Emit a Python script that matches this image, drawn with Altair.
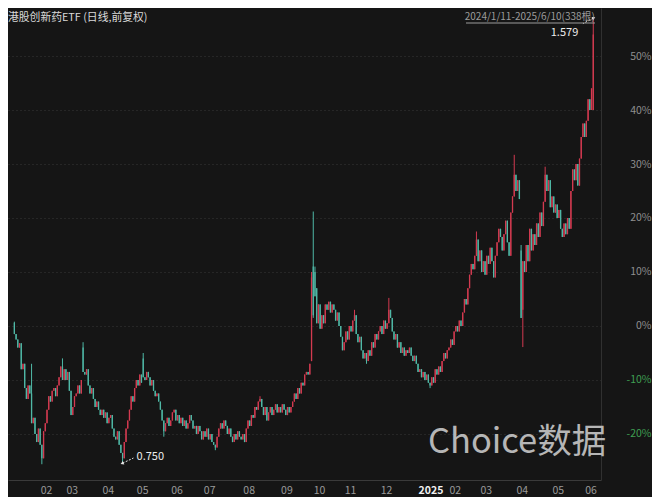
import altair as alt
import pandas as pd

# ---- daily closes, % change vs. base (2024/1/11 - 2025/6/10, 338 trading days) ----
jan24 = [-1.5, -2.5, -4.0, -3.2, -8.0, -7.0, -11.5, -13.5, -11.0, -12.5, -18.0, -17.0, -20.0, -21.5, -19.0]
feb24 = [-22, -24.5, -19.5, -18, -15.5, -13, -14, -12, -11.5, -13, -11, -9.5, -7.5, -10, -8]
mar24 = [-10, -8.5, -12, -16.5, -15, -13, -12.5, -11, -12.5, -10, -8.5, -9, -8, -11, -12.5, -11.5, -13.5, -15, -14, -15.5, -16.5]
apr24 = [-15.5, -17, -16, -18, -17, -16.5, -19, -20.5, -21, -19.5, -22, -23.5, -24.5, -21.5, -19, -17.5, -15.5, -13, -14, -11.5]
may24 = [-10, -11, -9, -10.5, -9.5, -10, -8.5, -9.5, -11, -10, -12, -13, -12.5, -14, -15.5, -17.5, -19.5, -18, -17, -18.5]
jun24 = [-17.5, -16, -15.5, -17.5, -16.5, -18, -17, -18.5, -17.5, -19, -18, -16.5, -17.5, -19, -18.5, -20, -18.5, -19.5, -21]
jul24 = [-19.5, -20.5, -19, -21, -20, -21.5, -22, -22.5, -20.5, -19, -18, -19, -17.5, -18.5, -20, -19, -20.5, -21.5, -20, -21, -19.5, -20.5, -21]
aug24 = [-20, -21.5, -19, -17.5, -18.5, -16.5, -17, -15, -15.5, -14, -13.5, -15, -16.5, -15, -17.5, -16, -15, -16.5, -15.5, -14.5, -16, -15]
sep24 = [-16, -14.5, -15.5, -16.5, -15, -16, -15, -14, -12.5, -13.5, -11.5, -12.5, -10.5, -11, -9, -8.5, -9, -7, 9]
oct24 = [2, 5.5, 0.5, 4, -0.5, 2, 0.5, 4, 3, 4.5, 2.5, 4, 3, 1, 2.5, 0, -2, -4.5]
nov24 = [-3, -1, -2.5, 0, -1, 1, 2, -1.5, -3, -2, -4.5, -6, -5, -6.5, -4.5, -5.5, -3, -4, -1.5, -2.5, -1]
dec24 = [0, -1.5, 1, -0.5, 0.5, 3, 1.5, -1, -2.5, -1.5, -4, -3, -5, -4, -5.5, -4.5, -5, -4, -5.5, -6.5, -5.5, -7]
jan25 = [-8.5, -8, -9.5, -8.5, -10, -9, -10.5, -11, -9.5, -10.5, -8, -9, -7.5, -8.5, -6.5, -5, -6, -4.5]
feb25 = [-4, -2.5, -3.5, -1, 0, -1, 1, 0, 2.5, 5, 4, 7, 9.5, 11.5, 10.5, 13, 16, 12]
mar25 = [14, 10, 12, 9.5, 13, 11.5, 14.5, 12, 9, 13, 15.5, 18, 16.5, 14, 17, 19.5, 15.5, 13, 21, 24, 28]
apr25 = [25, 27, 23.5, 1.5, 12, 10, 15, 12, 18, 14, 17, 15, 19, 16.5, 21, 18.5, 23, 28, 25, 27, 22]
may25 = [24, 21, 22.5, 20, 21.5, 18, 16.5, 19, 17, 20, 18, 25, 29, 27, 30, 26, 31, 35, 37.5]
jun25 = [35, 38, 42, 40, 44, 54]

closes = (jan24 + feb24 + mar24 + apr24 + may24 + jun24 + jul24 + aug24 + sep24 + oct24
          + nov24 + dec24 + jan25 + feb25 + mar25 + apr25 + may25 + jun25)

first_open = 0.6
# read-off opens / wicks that differ from the plain bodies
open_read = {40: -4, 75: -6, 173: -6.5, 174: 11, 175: 10, 176: 7, 295: 14, 296: 3, 337: 40}
high_read = {0: 0.8, 10: -7, 28: -6, 40: -3, 75: -5, 143: -13, 173: 10, 174: 21.2, 175: 11,
             198: 3, 218: 5.2, 269: 17.5, 291: 31.7, 295: 15, 309: 29.5, 337: 57}
low_read = {16: -25.6, 63: -25.4, 87: -20.5, 117: -23, 174: 1.5, 205: -7, 242: -11.5, 296: -3.9}

# month starts (trading-day index) and their tick labels
month_idx = [15, 30, 51, 71, 91, 110, 133, 155, 174, 192, 213, 235, 253, 271, 292, 313, 332]
month_lab = ["02", "03", "04", "05", "06", "07", "08", "09", "10", "11", "12", "2025",
             "02", "03", "04", "05", "06"]

y_ticks = [-20, -10, 0, 10, 20, 30, 40, 50]

title_text = "港股创新药ETF (日线,前复权)"
range_text = "2024/1/11-2025/6/10(338根)"
max_label, max_idx, max_val = "1.579", 337, 57.0
min_label, min_idx, min_val = "0.750", 63, -25.4

RED = "#d33a50"
TEAL = "#4fb8a6"
BG = "#151515"

rows = []
prev = first_open
for i, c in enumerate(closes):
    o = open_read.get(i, prev)
    h = high_read.get(i, max(o, c))
    l = low_read.get(i, min(o, c))
    rows.append({"idx": i, "open": o, "close": c, "high": h, "low": l,
                 "dir": "up" if c >= o else "down"})
    prev = c
df = pd.DataFrame(rows)

xscale = alt.Scale(domain=[-0.8, 338.6], nice=False, zero=False)
yscale = alt.Scale(domain=[-28.52, 58.89], nice=False, zero=False)

lab_expr = ("[" + ",".join(f"'{m}'" for m in month_lab) + "][indexof(["
            + ",".join(str(v) for v in month_idx) + "], datum.value)]")

xaxis = alt.Axis(values=month_idx, labelExpr=lab_expr, title=None, grid=False, ticks=False,
                 labelAlign="left", labelPadding=5, labelFontSize=10.5, labelFont="Noto Sans CJK SC",
                 labelColor={"condition": {"test": "datum.value == 235", "value": "#f2f2f2"}, "value": "#9a9a9a"},
                 labelFontWeight={"condition": {"test": "datum.value == 235", "value": "bold"}, "value": "normal"},
                 labelOverlap=False, labelFlush=False, labelBound=False,
                 domainColor="#3a3a3a", orient="bottom")
yaxis = alt.Axis(values=y_ticks, labelExpr="datum.value + '%'", title=None, orient="right",
                 grid=True, gridColor="#383838", gridDash=[1, 3], ticks=False,
                 labelAlign="right", labelPadding=50, labelFontSize=10.5, labelFont="Noto Sans CJK SC",
                 labelColor={"condition": {"test": "datum.value < 0", "value": "#3f9f52"}, "value": "#8f8f8f"},
                 labelBaseline="middle", labelOverlap=False, domainColor="#303030")


def X(field):
    return alt.X(field, scale=xscale, axis=xaxis)


def Y(field):
    return alt.Y(field, scale=yscale, axis=yaxis)


color = alt.Color("dir:N", scale=alt.Scale(domain=["up", "down"], range=[RED, TEAL]), legend=None)

base = alt.Chart(df)
wick = base.mark_rule(strokeWidth=1).encode(x=X("idx:Q"), y=Y("low:Q"), y2="high:Q", color=color)
body = base.mark_bar(size=1.3).encode(x=X("idx:Q"), y=Y("open:Q"), y2="close:Q", color=color)

# annotations for max / min
ann = pd.DataFrame({
    "idx": [max_idx, min_idx],
    "val": [max_val, min_val],
    "idx2": [max_idx - 6, min_idx + 6.3],
    "val2": [max_val - 1.0, min_val + 0.95],
    "label": [max_label, min_label],
    "ang": [66, 246],
})
ann_base = alt.Chart(ann)
ann_rule = ann_base.mark_rule(color="#e6e6e6", strokeWidth=1, strokeDash=[2, 1.5]).encode(
    x=X("idx:Q"), x2="idx2:Q", y=Y("val:Q"), y2="val2:Q")
ann_head = ann_base.mark_point(shape="triangle", filled=True, size=14, color="#e6e6e6", opacity=1).encode(
    x=X("idx:Q"), y=Y("val:Q"), angle=alt.Angle("ang:Q", scale=None))
max_text = alt.Chart(ann.iloc[[0]]).mark_text(
    align="right", baseline="middle", dx=-15, dy=15, fontSize=11, color="#ececec",
    font="Noto Sans CJK SC").encode(x=X("idx:Q"), y=Y("val:Q"), text="label:N")
min_text = alt.Chart(ann.iloc[[1]]).mark_text(
    align="left", baseline="middle", dx=14, dy=-6, fontSize=11, color="#ececec",
    font="Noto Sans CJK SC").encode(x=X("idx:Q"), y=Y("val:Q"), text="label:N")

# header texts and watermark
title = alt.Chart(pd.DataFrame({"t": [title_text]})).mark_text(
    align="left", baseline="middle", fontSize=10.8, color="#d9d9d9", font="Noto Sans CJK SC").encode(
    x=alt.value(0), y=alt.value(9.5), text="t:N")
rng = alt.Chart(pd.DataFrame({"t": [range_text]})).mark_text(
    align="right", baseline="middle", fontSize=10, color="#9c9c9c", font="Noto Sans CJK SC").encode(
    x=alt.value(587), y=alt.value(8.5), text="t:N")
rng_line = alt.Chart(pd.DataFrame({"t": [range_text]})).mark_rule(color="#9c9c9c", strokeWidth=1).encode(
    x=alt.value(458), x2=alt.value(587), y=alt.value(15))
wm = alt.Chart(pd.DataFrame({"t": ["Choice数据"]})).mark_text(
    align="left", baseline="middle", fontSize=34.5, color="#c4c4c4", opacity=0.92,
    font="Noto Sans CJK SC").encode(
    x=alt.value(420), y=alt.value(435), text="t:N")

chart = alt.layer(wm, wick, body, ann_rule, ann_head, max_text, min_text, title, rng, rng_line).properties(
    width=593, height=472, autosize="none",
    padding={"left": 0, "top": 0, "right": 51, "bottom": 17},
    background=BG,
).configure_view(strokeWidth=0).configure_axisX(labelOverlap=False)

chart.save("out.html", embed_options={"renderer": "svg", "actions": False})
